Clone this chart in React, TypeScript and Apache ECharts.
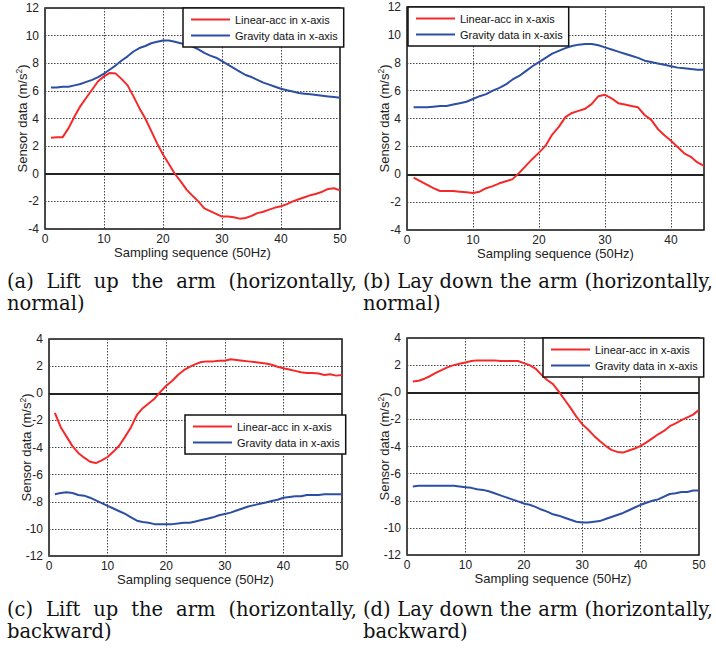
import React, { useEffect, useRef } from "react";
import * as echarts from "echarts";

const LINEAR_NAME = "Linear-acc in x-axis";
const GRAVITY_NAME = "Gravity data in x-axis";

const samplesA = Array.from({ length: 50 }, (_, i) => i + 1);
const samplesB = Array.from({ length: 45 }, (_, i) => i + 1);

const aLinear = [2.6, 2.65, 2.65, 3.3, 4.15, 4.9, 5.5, 6.1, 6.7, 7.05, 7.3, 7.25, 6.85, 6.4, 5.6, 4.75, 4.0, 3.1, 2.2, 1.4, 0.7, 0, -0.55, -1.15, -1.6, -2.0, -2.5, -2.7, -2.9, -3.1, -3.1, -3.15, -3.25, -3.2, -3.05, -2.85, -2.75, -2.6, -2.45, -2.35, -2.2, -2.0, -1.85, -1.7, -1.55, -1.45, -1.3, -1.1, -1.05, -1.2];
const aGravity = [6.25, 6.25, 6.3, 6.3, 6.4, 6.5, 6.65, 6.8, 7.0, 7.25, 7.55, 7.85, 8.2, 8.5, 8.85, 9.1, 9.25, 9.45, 9.55, 9.65, 9.65, 9.55, 9.45, 9.35, 9.2, 9.0, 8.75, 8.55, 8.4, 8.15, 7.9, 7.65, 7.4, 7.15, 7.0, 6.8, 6.6, 6.45, 6.3, 6.15, 6.05, 5.95, 5.85, 5.8, 5.75, 5.7, 5.65, 5.6, 5.55, 5.5];

const bLinear = [-0.25, -0.5, -0.75, -1.0, -1.2, -1.2, -1.2, -1.25, -1.3, -1.35, -1.25, -1.0, -0.85, -0.65, -0.5, -0.35, 0.1, 0.6, 1.1, 1.55, 2.05, 2.85, 3.4, 4.1, 4.4, 4.55, 4.7, 5.05, 5.6, 5.7, 5.45, 5.1, 5.0, 4.9, 4.8, 4.25, 3.9, 3.25, 2.8, 2.4, 1.95, 1.5, 1.25, 0.85, 0.6];
const bGravity = [4.8, 4.8, 4.8, 4.85, 4.9, 4.9, 5.0, 5.1, 5.2, 5.4, 5.6, 5.75, 6.0, 6.2, 6.45, 6.8, 7.05, 7.4, 7.75, 8.05, 8.35, 8.65, 8.85, 9.05, 9.2, 9.3, 9.35, 9.35, 9.25, 9.1, 8.95, 8.8, 8.65, 8.5, 8.35, 8.15, 8.05, 7.95, 7.85, 7.75, 7.65, 7.6, 7.55, 7.5, 7.5];

const cLinear = [-1.45, -2.5, -3.2, -3.9, -4.4, -4.75, -5.05, -5.15, -4.95, -4.7, -4.3, -3.85, -3.2, -2.5, -1.6, -1.1, -0.75, -0.4, 0.1, 0.55, 0.9, 1.35, 1.7, 1.95, 2.15, 2.3, 2.35, 2.35, 2.4, 2.4, 2.5, 2.45, 2.4, 2.35, 2.3, 2.25, 2.2, 2.1, 1.95, 1.85, 1.75, 1.65, 1.55, 1.5, 1.5, 1.45, 1.35, 1.4, 1.3, 1.35];
const cGravity = [-7.45, -7.35, -7.3, -7.35, -7.5, -7.55, -7.7, -7.9, -8.1, -8.3, -8.5, -8.7, -8.9, -9.15, -9.4, -9.5, -9.55, -9.65, -9.65, -9.65, -9.65, -9.6, -9.55, -9.55, -9.45, -9.35, -9.25, -9.15, -9.0, -8.9, -8.8, -8.65, -8.5, -8.35, -8.25, -8.15, -8.05, -7.95, -7.85, -7.7, -7.65, -7.6, -7.6, -7.5, -7.5, -7.5, -7.45, -7.45, -7.45, -7.45];

const dLinear = [0.8, 0.85, 1.0, 1.2, 1.45, 1.65, 1.85, 2.0, 2.1, 2.2, 2.3, 2.35, 2.35, 2.35, 2.35, 2.3, 2.3, 2.3, 2.3, 2.15, 2.0, 1.75, 1.3, 0.9, 0.6, 0.05, -0.55, -1.15, -1.8, -2.35, -2.75, -3.2, -3.6, -3.95, -4.25, -4.4, -4.45, -4.3, -4.15, -3.95, -3.7, -3.4, -3.1, -2.85, -2.5, -2.3, -2.05, -1.85, -1.65, -1.3];
const dGravity = [-6.95, -6.9, -6.9, -6.9, -6.9, -6.9, -6.9, -6.9, -6.95, -7.0, -7.05, -7.15, -7.2, -7.3, -7.45, -7.6, -7.75, -7.9, -8.05, -8.2, -8.3, -8.45, -8.65, -8.8, -9.0, -9.1, -9.25, -9.4, -9.55, -9.6, -9.6, -9.55, -9.5, -9.35, -9.2, -9.05, -8.9, -8.7, -8.5, -8.3, -8.15, -8.0, -7.9, -7.7, -7.5, -7.45, -7.35, -7.35, -7.25, -7.25];

const captionLines = [
  ["(a) Lift up the arm (horizontally,", "normal)"],
  ["(b) Lay down the arm (horizontally,", "normal)"],
  ["(c) Lift up the arm (horizontally,", "backward)"],
  ["(d) Lay down the arm (horizontally,", "backward)"],
];

const RED = "#f42a2a";
const BLUE = "#2d4fa3";
const SANS = "'Liberation Sans', Arial, sans-serif";
const SERIF = "'DejaVu Serif', serif";

export default function App() {
  const ref = useRef<HTMLDivElement>(null);
  useEffect(() => {
    if (!ref.current) return;
    const chart = echarts.init(ref.current, null, { renderer: "svg" });

    const panels = [
      { grid: { left: 45, top: 8, width: 295, height: 221 }, xs: samplesA, lin: aLinear, grav: aGravity, xMax: 50, yMin: -4, yMax: 12, legend: { left: 183, top: 8 } },
      { grid: { left: 407, top: 7, width: 297, height: 223 }, xs: samplesB, lin: bLinear, grav: bGravity, xMax: 45, yMin: -4, yMax: 12, legend: { left: 408, top: 7 } },
      { grid: { left: 49, top: 339, width: 293, height: 217 }, xs: samplesA, lin: cLinear, grav: cGravity, xMax: 50, yMin: -12, yMax: 4, legend: { left: 185, top: 415 } },
      { grid: { left: 407, top: 338, width: 292, height: 217 }, xs: samplesA, lin: dLinear, grav: dGravity, xMax: 50, yMin: -12, yMax: 4, legend: { left: 543, top: 338 } },
    ];

    const splitLine = { show: true, lineStyle: { color: "#444", type: [1.5, 1.5], width: 1 } };

    const grid = panels.map((p) => ({ ...p.grid, show: true, borderColor: "#111", borderWidth: 1.5, backgroundColor: "transparent", containLabel: false }));
    const xAxis = panels.map((p, i) => ({
      type: "value",
      gridIndex: i,
      min: 0,
      max: p.xMax,
      interval: 10,
      axisLine: { show: false },
      axisTick: { show: false },
      splitLine,
      axisLabel: { color: "#222", fontSize: 12, fontFamily: SANS, margin: 4, lineHeight: 12 },
      name: "Sampling sequence (50Hz)",
      nameLocation: "middle",
      nameGap: 17,
      nameMoveOverlap: false,
      nameTextStyle: { color: "#222", fontSize: 13, fontFamily: SANS, lineHeight: 13 },
    }));
    xAxis[1] = { ...xAxis[1], axisLabel: { ...xAxis[1].axisLabel, showMaxLabel: false } } as any;
    const yAxis = panels.map((p, i) => ({
      type: "value",
      gridIndex: i,
      min: p.yMin,
      max: p.yMax,
      interval: 2,
      axisLine: { show: false },
      axisTick: { show: false },
      splitLine,
      axisLabel: { color: "#222", fontSize: 12, fontFamily: SANS, margin: 6 },
      name: "Sensor data (m/s{sup|2})",
      nameLocation: "middle",
      nameGap: 14,
      nameMoveOverlap: false,
      nameTextStyle: {
        color: "#222",
        fontSize: 13,
        fontFamily: SANS,
        rich: { sup: { fontSize: 8.5, fontFamily: SANS, color: "#222", padding: [0, 0, 8, 0] } },
      },
    }));

    const series: any[] = [];
    panels.forEach((p, i) => {
      series.push({
        type: "line",
        name: LINEAR_NAME,
        xAxisIndex: i,
        yAxisIndex: i,
        symbol: "none",
        lineStyle: { color: RED, width: 2 },
        itemStyle: { color: RED },
        data: p.xs.map((x, k) => [x, p.lin[k]]),
        markLine: {
          silent: true,
          symbol: ["none", "none"],
          label: { show: false },
          lineStyle: { color: "#222", type: "solid", width: 2 },
          data: [{ yAxis: 0 }],
          z: 1,
        },
      });
      series.push({
        type: "line",
        name: GRAVITY_NAME,
        xAxisIndex: i,
        yAxisIndex: i,
        symbol: "none",
        lineStyle: { color: BLUE, width: 2 },
        itemStyle: { color: BLUE },
        data: p.xs.map((x, k) => [x, p.grav[k]]),
      });
    });

    const legend = panels.map((p) => ({
      left: p.legend.left,
      top: p.legend.top,
      orient: "vertical",
      data: [LINEAR_NAME, GRAVITY_NAME],
      icon: "rect",
      backgroundColor: "#fff",
      borderColor: "#111",
      borderWidth: 1.5,
      padding: [5, 6, 5, 8],
      itemWidth: 39,
      itemHeight: 2,
      itemGap: 3,
      selectedMode: false,
      textStyle: { color: "#111", fontSize: 11, fontFamily: SANS, lineHeight: 13 },
    }));

    // captions: serif, first line justified across the column width
    const canvas = document.createElement("canvas");
    const ctx = canvas.getContext("2d")!;
    ctx.font = `100px ${SERIF}`;
    const natural = ctx.measureText(captionLines[1][0]).width / 100;
    const colW = 350;
    const fs = Math.min(19.5, (colW - 1) / natural);
    ctx.font = `${fs}px ${SERIF}`;
    const capPos = [
      { x: 7, y1: 281, y2: 303 },
      { x: 363, y1: 281, y2: 303 },
      { x: 7, y1: 609, y2: 631 },
      { x: 363, y1: 609, y2: 631 },
    ];
    const graphic: any[] = [];
    captionLines.forEach((lines, i) => {
      const pos = capPos[i];
      const words = lines[0].split(" ");
      const widths = words.map((w) => ctx.measureText(w).width);
      const total = widths.reduce((s, w) => s + w, 0);
      const gap = (colW - total) / (words.length - 1);
      let cx = pos.x;
      words.forEach((w, k) => {
        graphic.push({
          type: "text",
          x: cx,
          y: pos.y1,
          style: { text: w, font: `${fs}px ${SERIF}`, fill: "#111", verticalAlign: "middle", align: "left" },
        });
        cx += widths[k] + gap;
      });
      graphic.push({
        type: "text",
        x: pos.x,
        y: pos.y2,
        style: { text: lines[1], font: `${fs}px ${SERIF}`, fill: "#111", verticalAlign: "middle", align: "left" },
      });
    });

    chart.setOption({
      animation: false,
      backgroundColor: "#fff",
      grid,
      xAxis,
      yAxis,
      legend,
      series,
      graphic,
    });
    return () => chart.dispose();
  }, []);
  return <div ref={ref} style={{ position: "absolute", left: 0, top: 0, width: 716, height: 648 }} />;
}
